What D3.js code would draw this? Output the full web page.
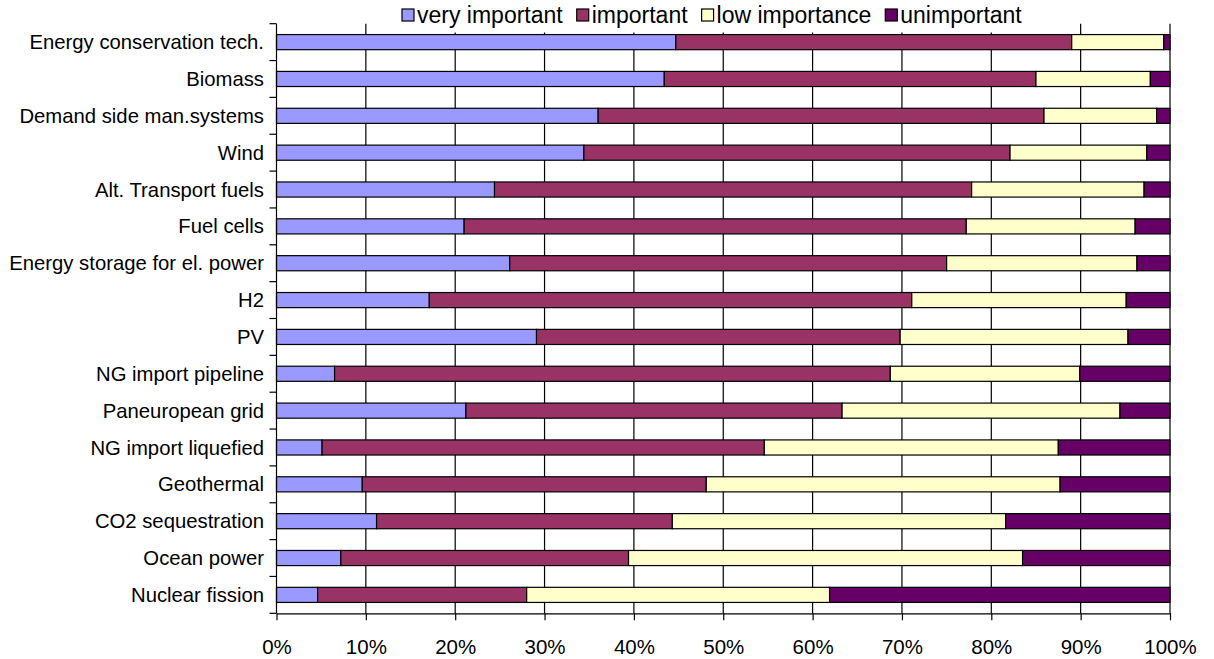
<!DOCTYPE html>
<html>
<head>
<meta charset="utf-8">
<script src="https://cdn.jsdelivr.net/npm/d3@7"></script>
<style>
  body { margin: 0; background: #fff; }
  svg { display: block; font-family: "Liberation Sans", Arial, sans-serif; }
</style>
</head>
<body>
<div id="chart"></div>
<script>
// categories top to bottom
var categories = [
  "Energy conservation tech.", "Biomass", "Demand side man.systems", "Wind",
  "Alt. Transport fuels", "Fuel cells", "Energy storage for el. power", "H2",
  "PV", "NG import pipeline", "Paneuropean grid", "NG import liquefied",
  "Geothermal", "CO2 sequestration", "Ocean power", "Nuclear fission"
];
var veryImportant = [44.7, 43.4, 36.0, 34.4, 24.4, 21.0, 26.1, 17.1, 29.1, 6.5, 21.2, 5.1, 9.6, 11.2, 7.2, 4.6];
var important     = [44.3, 41.6, 49.9, 47.7, 53.4, 56.2, 48.9, 54.0, 40.7, 62.2, 42.1, 49.5, 38.5, 33.1, 32.2, 23.4];
var lowImportance = [10.3, 12.8, 12.6, 15.3, 19.3, 18.9, 21.3, 24.0, 25.5, 21.2, 31.1, 32.9, 39.6, 37.3, 44.1, 33.9];
var unimportant   = [0.7, 2.2, 1.5, 2.6, 2.9, 3.9, 3.7, 4.9, 4.7, 10.1, 5.6, 12.5, 12.3, 18.4, 16.5, 38.1];
var seriesNames = ["very important", "important", "low importance", "unimportant"];
var seriesColors = ["#9999ff", "#993366", "#ffffcc", "#660066"];
var xTicks = [0, 10, 20, 30, 40, 50, 60, 70, 80, 90, 100];

var width = 1214, height = 659;
var plotLeft = 276.5, plotRight = 1170, plotTop = 23.7, plotBottom = 613.3;

var rows = categories.map(function (c, i) {
  return { cat: c, "very important": veryImportant[i], "important": important[i],
           "low importance": lowImportance[i], "unimportant": unimportant[i] };
});

var svg = d3.select('#chart').append('svg')
  .attr('width', width).attr('height', height);

var x = d3.scaleLinear().domain([0, 100]).range([plotLeft, plotRight]);
var y = d3.scaleBand().domain(categories).range([plotTop, plotBottom])
  .paddingInner(0.59).paddingOuter(0.295);

// vertical gridlines
svg.append('g').selectAll('line')
  .data(xTicks.slice(1))
  .enter().append('line')
  .attr('x1', function (d) { return x(d); }).attr('x2', function (d) { return x(d); })
  .attr('y1', plotTop).attr('y2', plotBottom)
  .attr('stroke', '#000').attr('stroke-width', 1.2);

// stacked bars
var stack = d3.stack().keys(seriesNames);
var layers = stack(rows);

svg.append('g').selectAll('g')
  .data(layers)
  .enter().append('g')
  .attr('fill', function (d, i) { return seriesColors[i]; })
  .selectAll('rect')
  .data(function (d) { return d; })
  .enter().append('rect')
  .attr('x', function (d) { return x(d[0]); })
  .attr('width', function (d) { return x(d[1]) - x(d[0]); })
  .attr('y', function (d) { return y(d.data.cat); })
  .attr('height', y.bandwidth())
  .attr('stroke', '#000').attr('stroke-width', 1.2);

// x axis
var xAxis = svg.append('g')
  .attr('transform', 'translate(0,' + plotBottom + ')')
  .call(d3.axisBottom(x).tickValues(xTicks)
    .tickFormat(function (d) { return d + '%'; })
    .tickSize(7).tickSizeOuter(0).tickPadding(19));
xAxis.select('.domain').attr('stroke', '#000').attr('stroke-width', 1.2);
xAxis.selectAll('.tick line').attr('stroke', '#000').attr('stroke-width', 1.2);
xAxis.selectAll('.tick text').attr('font-size', 20.5).attr('fill', '#000')
  .attr('font-family', '"Liberation Sans", Arial, sans-serif');

// y axis: line, ticks at category boundaries, labels
svg.append('line')
  .attr('x1', plotLeft).attr('x2', plotLeft).attr('y1', plotTop).attr('y2', plotBottom)
  .attr('stroke', '#000').attr('stroke-width', 1.2);
svg.append('g').selectAll('line')
  .data(d3.range(categories.length + 1))
  .enter().append('line')
  .attr('x1', plotLeft - 7).attr('x2', plotLeft)
  .attr('y1', function (i) { return plotTop + i * y.step(); })
  .attr('y2', function (i) { return plotTop + i * y.step(); })
  .attr('stroke', '#000').attr('stroke-width', 1.2);
svg.append('g').selectAll('text')
  .data(categories)
  .enter().append('text')
  .attr('x', 264)
  .attr('y', function (d) { return y(d) + y.bandwidth() / 2; })
  .attr('dy', '0.35em')
  .attr('text-anchor', 'end')
  .attr('font-size', 20.3)
  .text(function (d) { return d; });

// legend
var legend = svg.append('g');
legend.append('rect')
  .attr('x', 396).attr('y', -2).attr('width', 631).attr('height', 34.5)
  .attr('fill', '#fff');
var lx = 402;
seriesNames.forEach(function (name, i) {
  legend.append('rect')
    .attr('x', lx).attr('y', 9).attr('width', 12).attr('height', 12)
    .attr('fill', seriesColors[i]).attr('stroke', '#000').attr('stroke-width', 1.2);
  var t = legend.append('text')
    .attr('x', lx + 15).attr('y', 23)
    .attr('font-size', 23)
    .text(name);
  lx += 15 + t.node().getComputedTextLength() + 14;
});
</script>
</body>
</html>
